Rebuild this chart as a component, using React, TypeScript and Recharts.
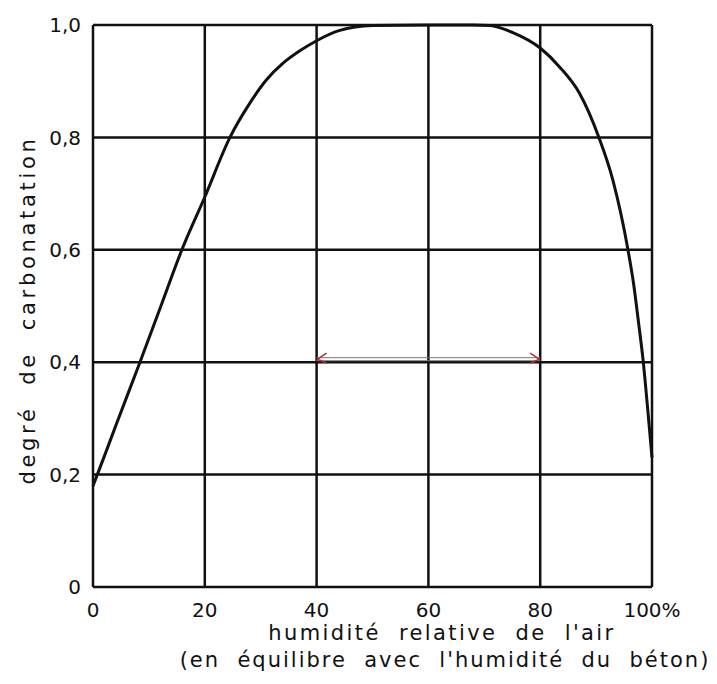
import React from 'react';
import { LineChart, Line, XAxis, YAxis, CartesianGrid, ReferenceLine, Label } from 'recharts';

// humidité relative (%) vs degré de carbonatation
const humidity = [0, 2, 4, 8.4, 12, 15.9, 20, 24.5, 28, 31, 34, 37, 40, 44, 50, 60, 68, 71, 75, 80, 83.5, 87, 90.5, 93, 95.7, 96.7, 97.6, 98.4, 99.2, 100];
const degree = [0.18, 0.232, 0.285, 0.4, 0.496, 0.6, 0.694, 0.8, 0.86, 0.902, 0.932, 0.954, 0.972, 0.99, 0.999, 1.0, 1.0, 0.999, 0.987, 0.959, 0.925, 0.879, 0.8, 0.724, 0.6, 0.54, 0.47, 0.404, 0.32, 0.23];

const xTicks = [0, 20, 40, 60, 80, 100];
const yTicks = [0, 0.2, 0.4, 0.6, 0.8, 1.0];

// plage de 40 à 80 % marquée par la double flèche
const rangeFrom = 40;
const rangeTo = 80;
const rangeLevel = 0.4;

const data = humidity.map((h, i) => ({ h, d: degree[i] }));

const FONT = '"DejaVu Sans", sans-serif';
const INK = '#111';

const fmtY = (v: number) => (v === 0 ? '0' : v.toFixed(1).replace('.', ','));
const fmtX = (v: number) => (v === 100 ? '100%' : String(v));

const DoubleArrow = (props: any) => {
  const { x1, y1, x2 } = props;
  if (x1 == null) return null;
  const y = y1 - 3;
  return (
    <g>
      <line x1={x1} y1={y - 1.5} x2={x2} y2={y - 1.5} stroke="#777" strokeWidth={1} />
      <line x1={x1} y1={y + 1.5} x2={x2} y2={y + 1.5} stroke="#777" strokeWidth={1} />
      <path d={`M${x1 + 10},${y - 6} L${x1 + 1},${y} L${x1 + 10},${y + 4}`} fill="none" stroke="#b03030" strokeWidth={1.5} />
      <path d={`M${x2 - 10},${y - 6} L${x2 - 1},${y} L${x2 - 10},${y + 4}`} fill="none" stroke="#b03030" strokeWidth={1.5} />
    </g>
  );
};

const titleStyle: React.CSSProperties = { whiteSpace: 'pre' };

const XTitle = (props: any) => {
  const vb = props.viewBox || {};
  const y = (vb.y ?? 587) + 53;
  return (
    <g fontFamily={FONT} fontSize={21} fill={INK}>
      <text x={442} y={y} textAnchor="middle" letterSpacing={2.4} style={titleStyle}>humidité  relative  de  l'air</text>
      <text x={445} y={y + 27} textAnchor="middle" letterSpacing={2.0} style={titleStyle}>(en  équilibre  avec  l'humidité  du  béton)</text>
    </g>
  );
};

const YTitle = () => (
  <text
    x={28}
    y={310}
    transform="rotate(-90 28 310)"
    textAnchor="middle"
    dominantBaseline="central"
    fontFamily={FONT}
    fontSize={21}
    fill={INK}
    letterSpacing={3.7}
    style={titleStyle}
  >
    degré  de  carbonatation
  </text>
);

export default function App() {
  return (
    <div style={{ position: 'absolute', left: 0, top: 0, background: '#fff' }}>
      <LineChart width={717} height={684} data={data} margin={{ top: 25, right: 65, left: 0, bottom: 0 }}>
        <CartesianGrid stroke={INK} strokeWidth={2.5} />
        <XAxis
          dataKey="h"
          type="number"
          domain={[0, 100]}
          ticks={xTicks}
          tickFormatter={fmtX}
          axisLine={false}
          tickLine={false}
          height={97}
          tickMargin={10}
          tick={{ fontFamily: FONT, fontSize: 20, fill: INK }}
        >
          <Label content={<XTitle />} />
        </XAxis>
        <YAxis
          type="number"
          domain={[0, 1]}
          ticks={yTicks}
          tickFormatter={fmtY}
          axisLine={false}
          tickLine={false}
          width={93}
          tickMargin={6}
          tick={{ fontFamily: FONT, fontSize: 20, fill: INK }}
        >
          <Label content={<YTitle />} />
        </YAxis>
        <ReferenceLine
          segment={[{ x: rangeFrom, y: rangeLevel }, { x: rangeTo, y: rangeLevel }]}
          shape={<DoubleArrow />}
        />
        <Line
          type="monotone"
          dataKey="d"
          stroke={INK}
          strokeWidth={3}
          dot={false}
          isAnimationActive={false}
        />
      </LineChart>
    </div>
  );
}
